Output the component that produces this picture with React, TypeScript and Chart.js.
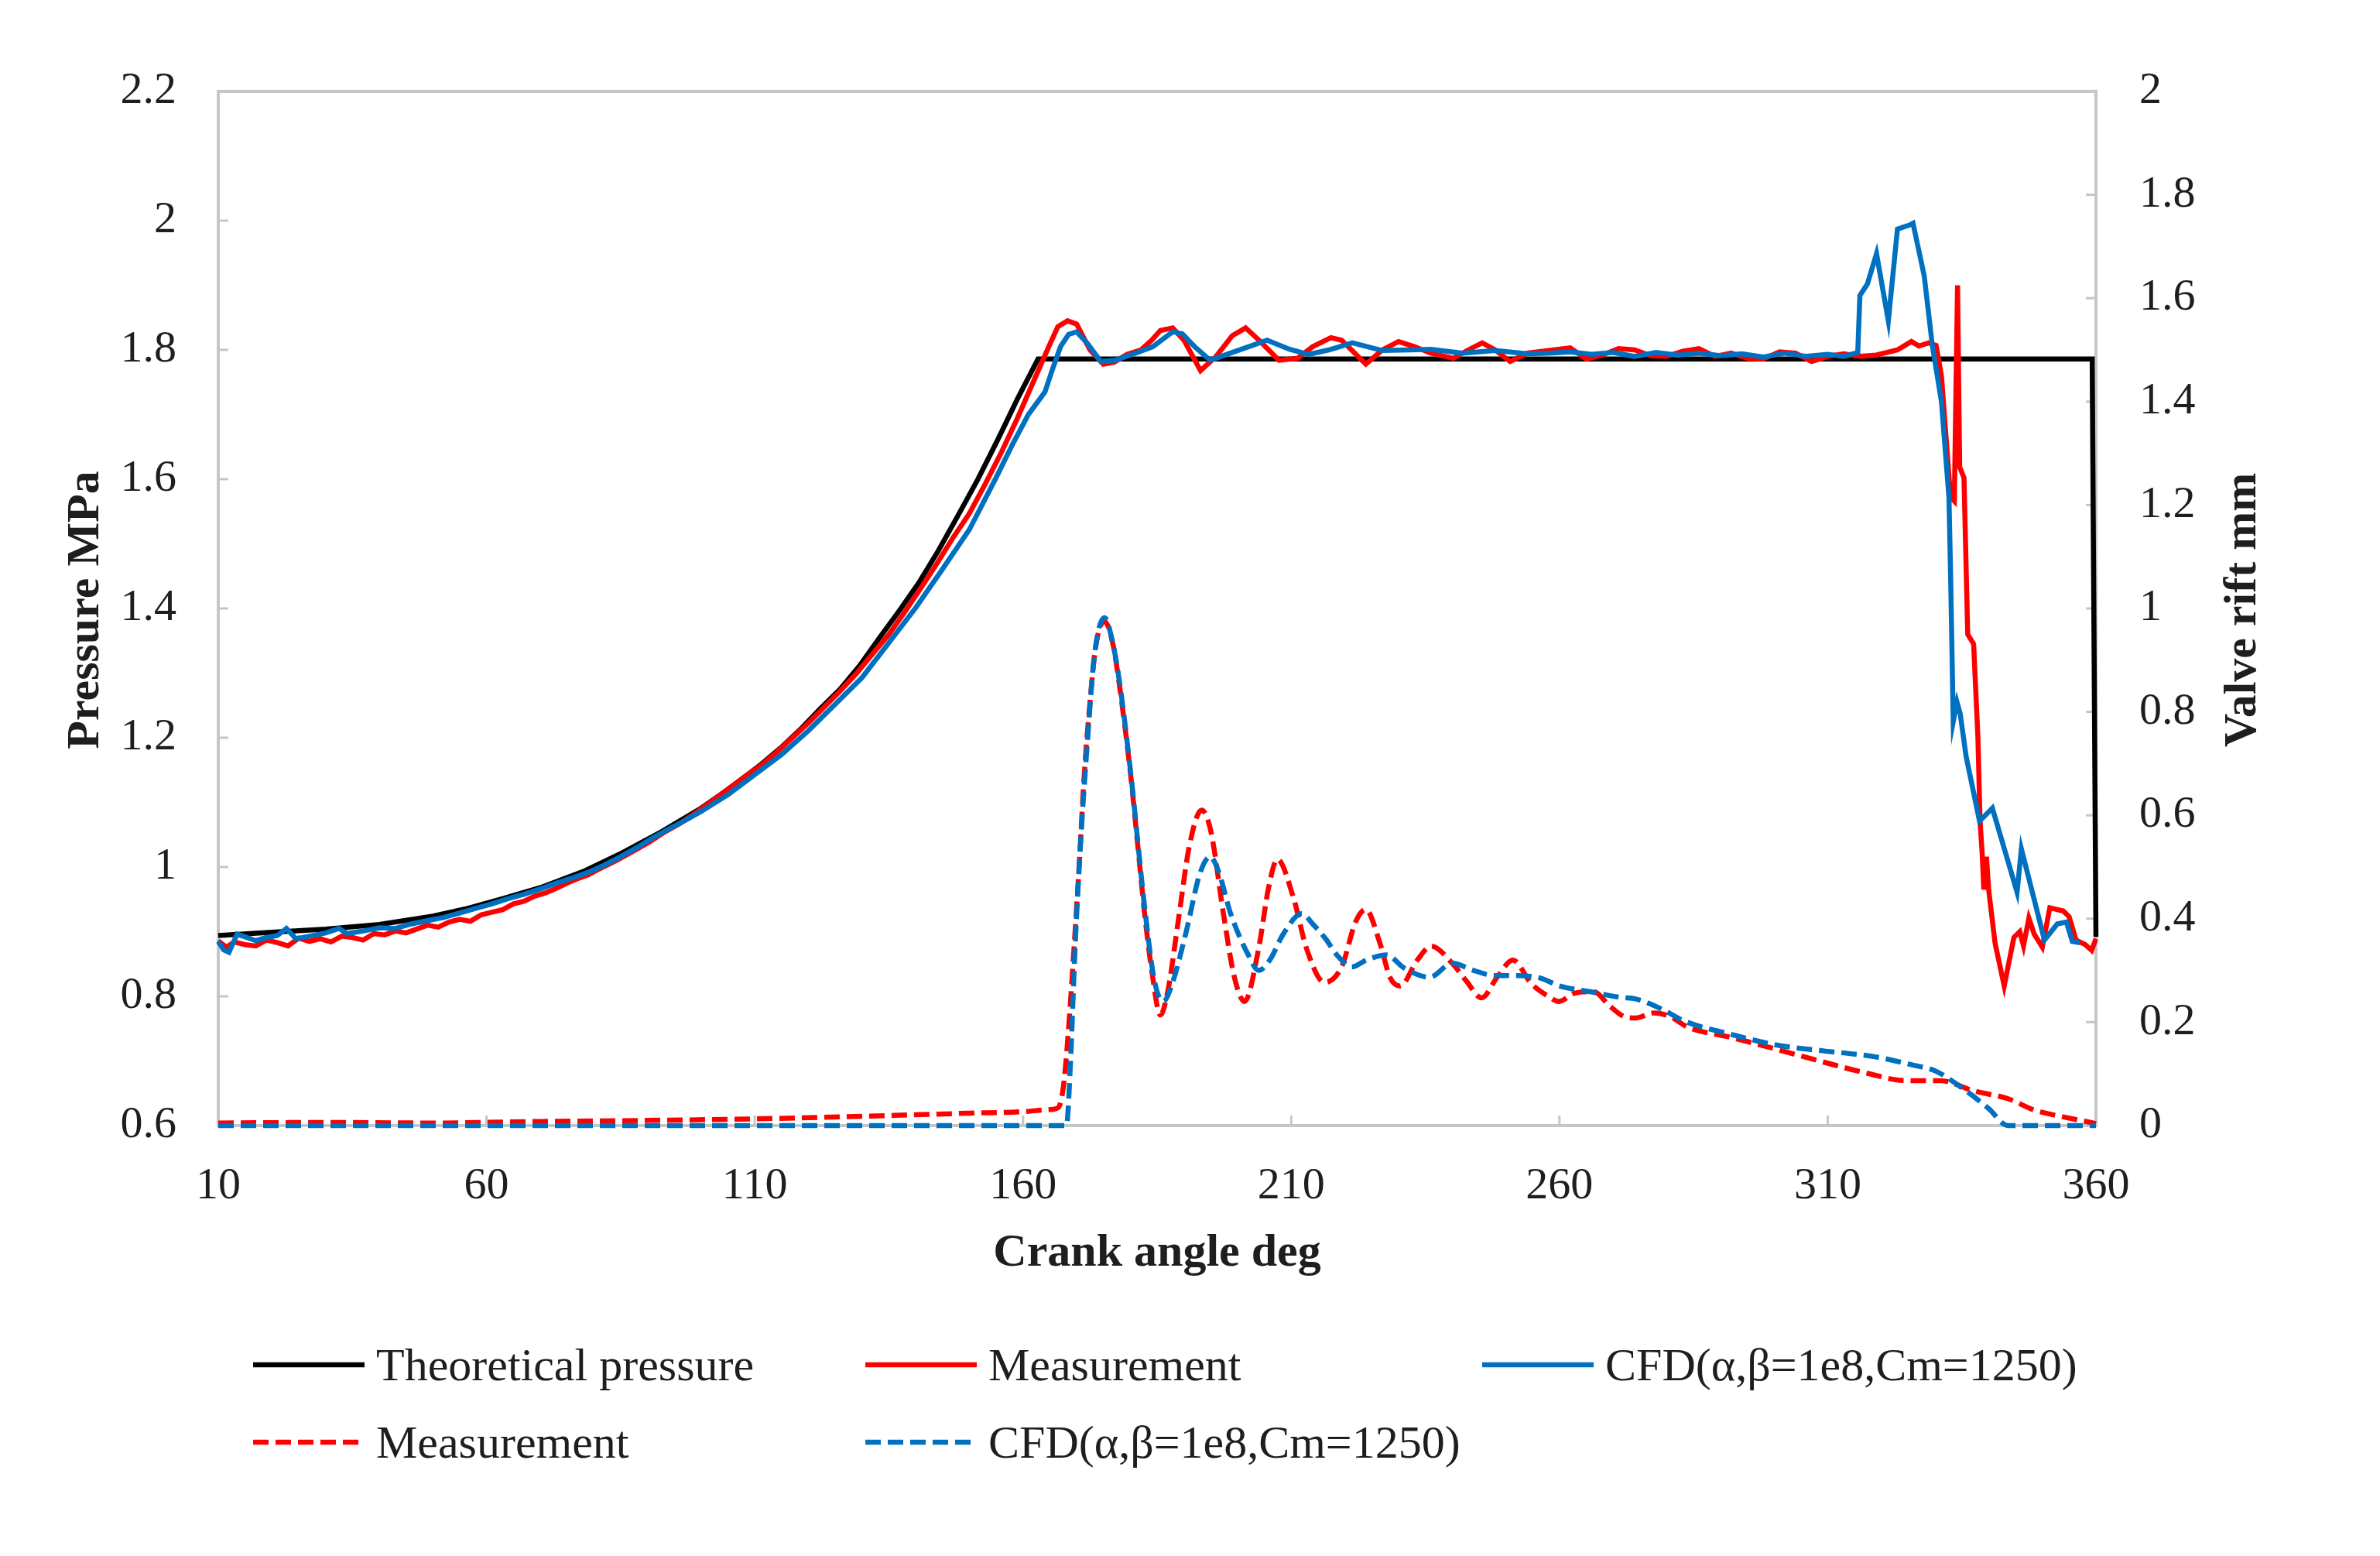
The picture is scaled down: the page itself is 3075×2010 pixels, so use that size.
import React, { useEffect, useRef } from "react";
import { Chart, registerables } from "chart.js";

Chart.register(...registerables);

const W = 3075;
const H = 2010;

// ---------- tick values ----------
const xTicks = [10, 60, 110, 160, 210, 260, 310, 360];
const pressureTicks = [0.6, 0.8, 1.0, 1.2, 1.4, 1.6, 1.8, 2.0, 2.2];
const liftTicks = [0, 0.2, 0.4, 0.6, 0.8, 1.0, 1.2, 1.4, 1.6, 1.8, 2.0];

// ---------- Theoretical pressure (left axis) ----------
const angleTheory = [10, 20, 30, 40, 50, 56, 63, 70, 78, 85.3, 92.7, 100, 103.8, 107.4, 111.2, 114.8, 118.5, 122.1, 125.9, 129.5, 133.2, 136.9, 140.6, 144.2, 147.9, 151.6, 155.3, 158.9, 162.8, 359.3, 360];
const pressureTheory = [0.894, 0.899, 0.904, 0.911, 0.924, 0.935, 0.951, 0.968, 0.993, 1.022, 1.055, 1.091, 1.113, 1.135, 1.159, 1.184, 1.213, 1.244, 1.275, 1.311, 1.354, 1.396, 1.44, 1.489, 1.544, 1.6, 1.661, 1.723, 1.786, 1.786, 0.892];

// ---------- Measurement pressure (left axis) ----------
const angleMeas = [10, 11.5, 13, 15, 17, 19, 21, 23, 25, 27, 29, 31, 33, 35, 37, 39, 41, 43, 45, 47, 49, 51, 53, 55, 57, 59, 61, 63, 65, 67, 69, 71, 73, 75, 77, 79, 81, 84, 87, 90, 93, 96, 99, 102, 105, 108, 111, 114, 117, 120, 123, 126, 129, 132, 135, 138, 141, 144, 147, 150, 153, 156, 159, 162, 164.8, 166.5, 168.3, 170, 172.5, 175, 177, 179.4, 182, 184, 185.6, 187.9, 190, 193.1, 196, 199, 201.5, 204, 207.7, 211.2, 214, 217.4, 219.4, 223.9, 227, 230, 233, 236, 240.2, 243, 245.6, 248, 250.8, 254, 258, 262, 265, 268, 271, 274, 277, 280, 283, 286, 289, 292, 295, 298, 301, 304, 307, 310, 313, 316, 319, 321, 323, 325.6, 327, 328.8, 330.2, 331.2, 332.9, 333.6, 334.2, 334.6, 335.4, 336.1, 337.2, 338, 338.4, 338.8, 339.1, 339.6, 340, 341.2, 342.9, 344.7, 345.8, 346.5, 347.5, 348.5, 350, 351.4, 353.9, 355, 356.3, 358, 359.2, 360];
const pressureMeas = [0.886, 0.876, 0.884, 0.88, 0.878, 0.887, 0.883, 0.878, 0.89, 0.885, 0.889, 0.884, 0.893, 0.891, 0.887, 0.897, 0.895, 0.901, 0.898, 0.904, 0.91, 0.907, 0.915, 0.919, 0.916, 0.926, 0.93, 0.934, 0.943, 0.947, 0.955, 0.96, 0.967, 0.975, 0.982, 0.988, 0.997, 1.009, 1.023, 1.037, 1.053, 1.067, 1.084, 1.102, 1.12, 1.139, 1.156, 1.177, 1.2, 1.223, 1.248, 1.273, 1.3, 1.33, 1.36, 1.395, 1.432, 1.47, 1.51, 1.547, 1.593, 1.642, 1.695, 1.752, 1.805, 1.836, 1.845, 1.84, 1.8, 1.778, 1.781, 1.793, 1.8, 1.815, 1.83, 1.834, 1.815, 1.768, 1.79, 1.822, 1.834, 1.815, 1.784, 1.787, 1.805, 1.819, 1.815, 1.778, 1.8, 1.813, 1.805, 1.795, 1.787, 1.8, 1.811, 1.8, 1.782, 1.795, 1.799, 1.803, 1.786, 1.792, 1.802, 1.8, 1.791, 1.79, 1.798, 1.802, 1.79, 1.795, 1.787, 1.786, 1.797, 1.795, 1.782, 1.79, 1.794, 1.79, 1.792, 1.796, 1.8, 1.813, 1.806, 1.811, 1.807, 1.76, 1.572, 1.566, 1.9, 1.619, 1.602, 1.36, 1.345, 1.2, 1.071, 1.02, 0.965, 1.016, 0.965, 0.882, 0.816, 0.891, 0.9, 0.878, 0.921, 0.896, 0.876, 0.937, 0.932, 0.923, 0.887, 0.88, 0.871, 0.889];

// ---------- CFD pressure (left axis) ----------
const angleCfd = [10, 11, 12, 13.5, 15, 17, 19, 21, 22.7, 24.5, 27, 30, 32.5, 34, 37, 40, 43, 46, 49, 52, 55, 58, 61, 64, 67, 70, 73, 76, 79, 82, 85, 88, 91, 94, 97, 100, 105, 110, 115, 120, 125, 130, 135, 140, 145, 150, 154.9, 158, 161, 164.1, 165.5, 167, 168.5, 170, 172, 174.5, 177.2, 181, 184.2, 187.9, 189.7, 192, 194.9, 200, 205.5, 209.7, 213.2, 217, 221.4, 227, 232, 236, 242, 248, 254, 258, 262, 266, 270, 274, 278, 282, 286, 290, 294, 298, 302, 306, 310, 313, 315.6, 316, 317.4, 319.1, 321.3, 323, 325.2, 325.9, 328, 329.5, 331.2, 332.6, 332.9, 333.4, 334.1, 334.7, 335.8, 338.3, 340.7, 345.3, 346.1, 350.4, 352.8, 354.5, 355.6, 357];
const pressureCfd = [0.885, 0.872, 0.868, 0.896, 0.892, 0.886, 0.891, 0.894, 0.905, 0.889, 0.893, 0.898, 0.905, 0.897, 0.901, 0.906, 0.905, 0.912, 0.917, 0.922, 0.929, 0.936, 0.943, 0.951, 0.958, 0.966, 0.975, 0.983, 0.992, 1.003, 1.016, 1.03, 1.045, 1.059, 1.072, 1.086, 1.112, 1.143, 1.174, 1.211, 1.252, 1.293, 1.347, 1.401, 1.461, 1.522, 1.601, 1.653, 1.7, 1.735, 1.77, 1.805, 1.824, 1.828, 1.81, 1.782, 1.784, 1.795, 1.805, 1.828, 1.825, 1.805, 1.784, 1.799, 1.815, 1.801, 1.793, 1.8, 1.811, 1.799, 1.8, 1.801, 1.795, 1.799, 1.794, 1.795, 1.797, 1.793, 1.796, 1.79, 1.796, 1.792, 1.795, 1.791, 1.794, 1.789, 1.795, 1.79, 1.793, 1.79, 1.796, 1.884, 1.902, 1.949, 1.845, 1.987, 1.993, 1.996, 1.914, 1.807, 1.72, 1.572, 1.455, 1.225, 1.255, 1.237, 1.171, 1.071, 1.091, 0.961, 1.028, 0.887, 0.912, 0.915, 0.885, 0.883];

// ---------- Measurement valve lift (right axis) ----------
const angleLiftMeas = [10, 30, 50, 70, 90, 110, 130, 150, 160, 165, 166.6, 167.5, 168.4, 169.5, 170.5, 171.4, 172.4, 173.6, 175.2, 176.8, 178.1, 180.1, 181.4, 182.7, 184, 185.6, 187, 189, 191, 193.3, 195, 197.4, 199.4, 201.3, 203.9, 205.8, 207.4, 210.4, 212.9, 216.2, 219.4, 222, 223.9, 226.5, 228.4, 230.3, 233.5, 236.1, 240, 242.6, 245.5, 248.4, 251.3, 254.8, 257.9, 259.9, 262.8, 266.4, 269.2, 272, 274.2, 277.7, 280.6, 284, 291.8, 300.3, 308.8, 317.4, 324.4, 330.9, 337.3, 343.6, 348.5, 354.3, 360];
const liftMeas = [0.005, 0.006, 0.005, 0.008, 0.01, 0.013, 0.018, 0.024, 0.027, 0.031, 0.035, 0.073, 0.174, 0.341, 0.508, 0.675, 0.808, 0.929, 0.975, 0.929, 0.842, 0.675, 0.541, 0.407, 0.3, 0.214, 0.26, 0.4, 0.54, 0.61, 0.57, 0.407, 0.287, 0.24, 0.341, 0.461, 0.515, 0.441, 0.341, 0.277, 0.307, 0.394, 0.418, 0.354, 0.287, 0.27, 0.32, 0.347, 0.314, 0.28, 0.247, 0.287, 0.32, 0.274, 0.25, 0.24, 0.256, 0.259, 0.233, 0.211, 0.208, 0.218, 0.211, 0.19, 0.171, 0.148, 0.124, 0.101, 0.087, 0.087, 0.067, 0.052, 0.03, 0.016, 0.004];

// ---------- CFD valve lift (right axis) ----------
const angleLiftCfd = [10, 168.1, 168.8, 169.7, 170.7, 172, 173.3, 175.2, 176.8, 178.1, 180.1, 182.7, 184.5, 186.2, 187.8, 190.4, 193, 194.9, 196.5, 198.7, 202, 203.9, 206, 208.5, 212, 214, 216.5, 218.5, 221.3, 224, 227.8, 231, 235.8, 240, 244, 248, 252, 256.5, 260, 265.7, 271.3, 274.2, 279.1, 283.3, 291.8, 300.3, 308.8, 318.8, 325.9, 330.2, 335.8, 340, 343.6, 360];
const liftCfd = [0, 0, 0.11, 0.341, 0.541, 0.741, 0.908, 0.982, 0.93, 0.85, 0.68, 0.42, 0.28, 0.24, 0.274, 0.374, 0.488, 0.52, 0.49, 0.41, 0.33, 0.3, 0.32, 0.37, 0.41, 0.39, 0.36, 0.33, 0.307, 0.32, 0.33, 0.305, 0.287, 0.314, 0.3, 0.29, 0.29, 0.285, 0.27, 0.259, 0.248, 0.245, 0.225, 0.202, 0.177, 0.156, 0.145, 0.133, 0.117, 0.105, 0.067, 0.033, 0, 0];

// ---------- legend labels ----------
const legendLabels = [
  "Theoretical pressure",
  "Measurement",
  "CFD(α,β=1e8,Cm=1250)",
  "Measurement",
  "CFD(α,β=1e8,Cm=1250)",
];

const BLACK = "#000000";
const RED = "#FF0000";
const BLUE = "#0070C0";
const AXIS_GRAY = "#c6c6c6";
const TEXT = "#1e1e1e";
const SERIF = "'Liberation Serif', 'Times New Roman', serif";

const pts = (xs: number[], ys: number[]) => xs.map((x, i) => ({ x, y: ys[i] }));
const fmt = (v: number) => String(Number(v.toFixed(1)));

const decorPlugin = {
  id: "decor",
  beforeDatasetsDraw(chart: any) {
    const { ctx, chartArea, scales } = chart;
    const { left, right, top, bottom } = chartArea;
    ctx.save();
    ctx.strokeStyle = AXIS_GRAY;
    ctx.lineWidth = 4;
    ctx.strokeRect(left, top, right - left, bottom - top);
    ctx.lineWidth = 3;
    const line = (x1: number, y1: number, x2: number, y2: number) => {
      ctx.beginPath();
      ctx.moveTo(x1, y1);
      ctx.lineTo(x2, y2);
      ctx.stroke();
    };
    xTicks.forEach((v) => {
      const px = scales.x.getPixelForValue(v);
      line(px, bottom, px, bottom - 13);
    });
    pressureTicks.forEach((v) => {
      const py = scales.y.getPixelForValue(v);
      line(left, py, left + 13, py);
    });
    liftTicks.forEach((v) => {
      const py = scales.y1.getPixelForValue(v);
      line(right, py, right - 13, py);
    });
    ctx.restore();
  },
  afterDraw(chart: any) {
    const { ctx, chartArea } = chart;
    const { left, right, top, bottom } = chartArea;
    const midY = (top + bottom) / 2;
    ctx.save();
    ctx.fillStyle = TEXT;
    ctx.font = `bold 60px ${SERIF}`;
    ctx.textAlign = "center";
    ctx.textBaseline = "alphabetic";
    // x title
    ctx.fillText("Crank angle deg", (left + right) / 2, 1635);
    // left title
    ctx.save();
    ctx.translate(127, midY + 2);
    ctx.rotate(-Math.PI / 2);
    ctx.fillText("Pressure MPa", 0, 0);
    ctx.restore();
    // right title
    ctx.save();
    ctx.translate(2914, midY + 2);
    ctx.rotate(-Math.PI / 2);
    ctx.fillText("Valve rift mm", 0, 0);
    ctx.restore();

    // legend
    const items = [
      { color: BLACK, dash: [] as number[], x: 327, y: 1763, label: legendLabels[0] },
      { color: RED, dash: [] as number[], x: 1118, y: 1763, label: legendLabels[1] },
      { color: BLUE, dash: [] as number[], x: 1915, y: 1763, label: legendLabels[2] },
      { color: RED, dash: [20, 9], x: 327, y: 1863, label: legendLabels[3] },
      { color: BLUE, dash: [20, 9], x: 1118, y: 1863, label: legendLabels[4] },
    ];
    ctx.font = `60px ${SERIF}`;
    ctx.textAlign = "left";
    items.forEach((it) => {
      ctx.save();
      ctx.strokeStyle = it.color;
      ctx.lineWidth = 6.5;
      ctx.setLineDash(it.dash);
      ctx.beginPath();
      ctx.moveTo(it.x, it.y);
      ctx.lineTo(it.x + 144, it.y);
      ctx.stroke();
      ctx.restore();
      ctx.fillStyle = TEXT;
      ctx.fillText(it.label, it.x + 159, it.y + 20);
    });
    ctx.restore();
  },
};

export default function App() {
  const ref = useRef<HTMLCanvasElement>(null);

  useEffect(() => {
    if (!ref.current) return;
    const tickFont = { family: SERIF, size: 58 };
    const chart = new Chart(ref.current, {
      type: "line",
      data: {
        datasets: [
          {
            label: legendLabels[0],
            data: pts(angleTheory, pressureTheory),
            borderColor: BLACK,
            borderWidth: 6.5,
            yAxisID: "y",
            order: 5,
            clip: false,
          },
          {
            label: legendLabels[1],
            data: pts(angleMeas, pressureMeas),
            borderColor: RED,
            borderWidth: 6.5,
            yAxisID: "y",
            order: 4,
            clip: false,
          },
          {
            label: legendLabels[2],
            data: pts(angleCfd, pressureCfd),
            borderColor: BLUE,
            borderWidth: 6.5,
            yAxisID: "y",
            order: 3,
            clip: false,
          },
          {
            label: legendLabels[3],
            data: pts(angleLiftMeas, liftMeas),
            borderColor: RED,
            borderWidth: 6.5,
            borderDash: [20, 9],
            cubicInterpolationMode: "monotone",
            yAxisID: "y1",
            order: 2,
            clip: false,
          },
          {
            label: legendLabels[4],
            data: pts(angleLiftCfd, liftCfd),
            borderColor: BLUE,
            borderWidth: 6.5,
            borderDash: [20, 9],
            cubicInterpolationMode: "monotone",
            yAxisID: "y1",
            order: 1,
            clip: false,
          },
        ] as any,
      },
      options: {
        responsive: false,
        animation: false,
        devicePixelRatio: 1,
        layout: { padding: { top: 118, left: 0, right: 0, bottom: 0 } },
        elements: { point: { radius: 0 }, line: { tension: 0, fill: false } },
        plugins: { legend: { display: false }, tooltip: { enabled: false } },
        scales: {
          x: {
            type: "linear",
            min: 10,
            max: 360,
            grid: { display: false, drawTicks: false },
            border: { display: false },
            afterBuildTicks: (s: any) => {
              s.ticks = xTicks.map((v) => ({ value: v }));
            },
            afterFit: (s: any) => {
              s.height = H - 1454;
            },
            ticks: {
              font: tickFont,
              color: TEXT,
              padding: 44,
              maxRotation: 0,
              autoSkip: false,
              callback: (v: any) => String(v),
            },
          },
          y: {
            type: "linear",
            position: "left",
            min: 0.6,
            max: 2.2,
            grid: { display: false, drawTicks: false },
            border: { display: false },
            afterBuildTicks: (s: any) => {
              s.ticks = pressureTicks.map((v) => ({ value: v }));
            },
            afterFit: (s: any) => {
              s.width = 282;
            },
            ticks: {
              font: tickFont,
              color: TEXT,
              padding: 54,
              autoSkip: false,
              callback: (v: any) => fmt(Number(v)),
            },
          },
          y1: {
            type: "linear",
            position: "right",
            min: 0,
            max: 2,
            grid: { display: false, drawTicks: false },
            border: { display: false },
            afterBuildTicks: (s: any) => {
              s.ticks = liftTicks.map((v) => ({ value: v }));
            },
            afterFit: (s: any) => {
              s.width = W - 2708;
            },
            ticks: {
              font: tickFont,
              color: TEXT,
              padding: 56,
              autoSkip: false,
              callback: (v: any) => fmt(Number(v)),
            },
          },
        },
      } as any,
      plugins: [decorPlugin],
    });
    return () => chart.destroy();
  }, []);

  return (
    <div style={{ position: "fixed", left: 0, top: 0, width: W, height: H, background: "#ffffff" }}>
      <canvas ref={ref} width={W} height={H} style={{ width: W, height: H, display: "block" }} />
    </div>
  );
}
